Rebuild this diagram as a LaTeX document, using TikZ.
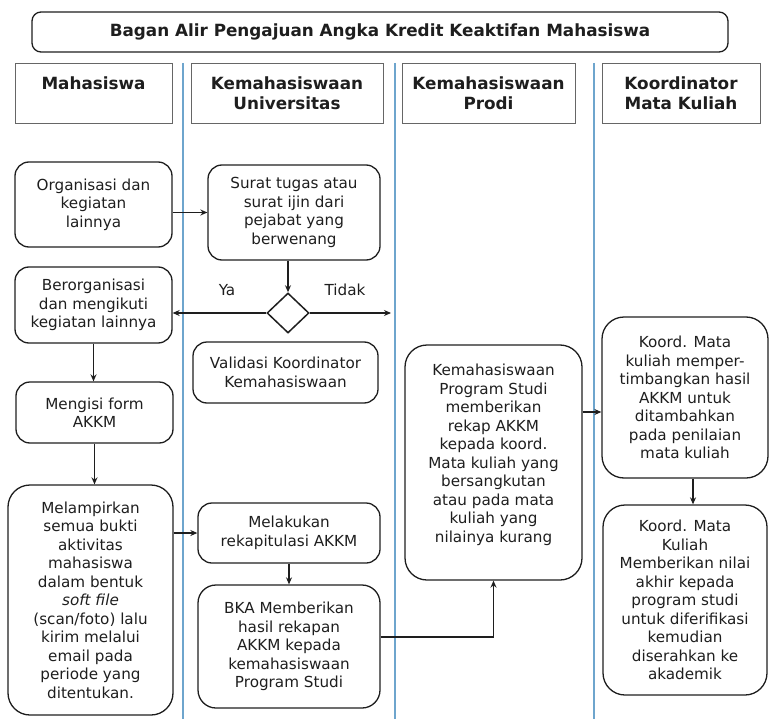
\documentclass[tikz,border=0pt]{standalone}
\usepackage{fontspec}
\setmainfont{DejaVu Sans}
\usetikzlibrary{arrows.meta,shapes.geometric,calc}
\definecolor{lanecol}{RGB}{110,165,205}
\definecolor{ink}{RGB}{30,30,30}
\tikzset{
  body/.style={font=\fontsize{15.2}{18.5}\selectfont, text=ink},
  flowbox/.style={body, draw=ink, line width=1.3pt, rounded corners=14pt, align=center, inner sep=0pt},
  bigbox/.style={flowbox, rounded corners=22pt},
  hdrbox/.style={draw=black!60, line width=0.9pt, align=center, inner sep=0pt,
    font=\fontsize{16.8}{20}\selectfont\bfseries, text=ink},
  lane/.style={draw=lanecol, line width=1.6pt},
  arr/.style={draw=ink, line width=1.8pt, -{Stealth[length=7pt,width=6pt]}},
  decision/.style={diamond, draw=ink, line width=1.5pt, inner sep=0pt, minimum width=42pt, minimum height=40pt, shape aspect=1}
}
\begin{document}
\begin{tikzpicture}[x=1pt,y=-1pt]
\useasboundingbox (0,0) rectangle (770,719);
% lanes
\draw[lane] (183,63) -- (183,719);
\draw[lane] (395,63) -- (395,719);
\draw[lane] (594,63) -- (594,719);
% title
\node[hdrbox, draw=ink, line width=1.3pt, rounded corners=9pt, minimum width=696pt, minimum height=40pt, fill=white] (title) at (380,32) {Bagan Alir Pengajuan Angka Kredit Keaktifan Mahasiswa};
% headers
\node[hdrbox, fill=white, minimum width=157pt, minimum height=60pt] (hMhs) at (93.5,93) {Mahasiswa\\\phantom{X}};
\node[hdrbox, fill=white, minimum width=192pt, minimum height=60pt] (hUniv) at (287,93) {Kemahasiswaan\\Universitas};
\node[hdrbox, fill=white, minimum width=173pt, minimum height=60pt] (hProdi) at (488.5,93) {Kemahasiswaan\\Prodi};
\node[hdrbox, fill=white, minimum width=158pt, minimum height=60pt] (hKoord) at (681,93) {Koordinator\\Mata Kuliah};
% flow boxes
\node[flowbox, minimum width=157pt, minimum height=85pt] (org) at (93.5,204.5) {Organisasi dan\\kegiatan\\lainnya};
\node[flowbox, minimum width=172pt, minimum height=95pt] (surat) at (294,212.5) {Surat tugas atau\\surat ijin dari\\pejabat yang\\berwenang};
\node[decision] (dec) at (288,313) {};
\node[body] (ya) at (227,290) {Ya};
\node[body] (tidak) at (345,290) {Tidak};
\coordinate (tidakEnd) at (391,313);
\node[flowbox, minimum width=157pt, minimum height=76pt] (beror) at (93.5,305) {Berorganisasi\\dan mengikuti\\kegiatan lainnya};
\node[flowbox, minimum width=185pt, minimum height=61pt] (valid) at (285.5,372.5) {Validasi Koordinator\\Kemahasiswaan};
\node[flowbox, minimum width=157pt, minimum height=61pt] (mengisi) at (94.5,412.5) {Mengisi form\\AKKM};
\node[bigbox, minimum width=165pt, minimum height=230pt] (melamp) at (90.5,600) {Melampirkan\\semua bukti\\aktivitas\\mahasiswa\\dalam bentuk\\\textit{soft file}\\(scan/foto) lalu\\kirim melalui\\email pada\\periode yang\\ditentukan.};
\node[flowbox, minimum width=182pt, minimum height=60pt] (melak) at (289,533) {Melakukan\\rekapitulasi AKKM};
\node[flowbox, rounded corners=18pt, minimum width=182pt, minimum height=123pt] (bka) at (289,646.5) {BKA Memberikan\\hasil rekapan\\AKKM kepada\\kemahasiswaan\\Program Studi};
\node[bigbox, minimum width=177pt, minimum height=235pt] (prodi) at (493.5,462.5) {Kemahasiswaan\\Program Studi\\memberikan\\rekap AKKM\\kepada koord.\\Mata kuliah yang\\bersangkutan\\atau pada mata\\kuliah yang\\nilainya kurang\\\mbox{}};
\node[bigbox, minimum width=166pt, minimum height=161pt] (k1) at (685,397.5) {Koord. Mata\\kuliah memper-\\timbangkan hasil\\AKKM untuk\\ditambahkan\\pada penilaian\\mata kuliah};
\node[bigbox, minimum width=164pt, minimum height=190pt] (k2) at (685,600) {Koord. Mata\\Kuliah\\Memberikan nilai\\akhir kepada\\program studi\\untuk diferifikasi\\kemudian\\diserahkan ke\\akademik};
% connectors
\draw[arr] (org.east |- surat.west) -- (surat.west);
\draw[arr] (surat.south -| dec.north) -- (dec.north);
\draw[arr] (dec.west) -- (dec.west -| beror.east);
\draw[arr] (dec.east) -- (tidakEnd);
\draw[arr] (beror.south) -- (beror.south |- mengisi.north);
\draw[arr] (mengisi.south) -- (mengisi.south |- melamp.north);
\draw[arr] (melamp.east |- melak.west) -- (melak.west);
\draw[arr] (melak.south) -- (bka.north);
\draw[arr] ([yshift=9.5pt]bka.east) -| (prodi.south);
\draw[arr] ([yshift=50.5pt]prodi.east) coordinate (pk) -- (pk -| k1.west);
\draw[arr] ([xshift=8pt]k1.south) -- ([xshift=8pt]k1.south |- k2.north);
\end{tikzpicture}
\end{document}
